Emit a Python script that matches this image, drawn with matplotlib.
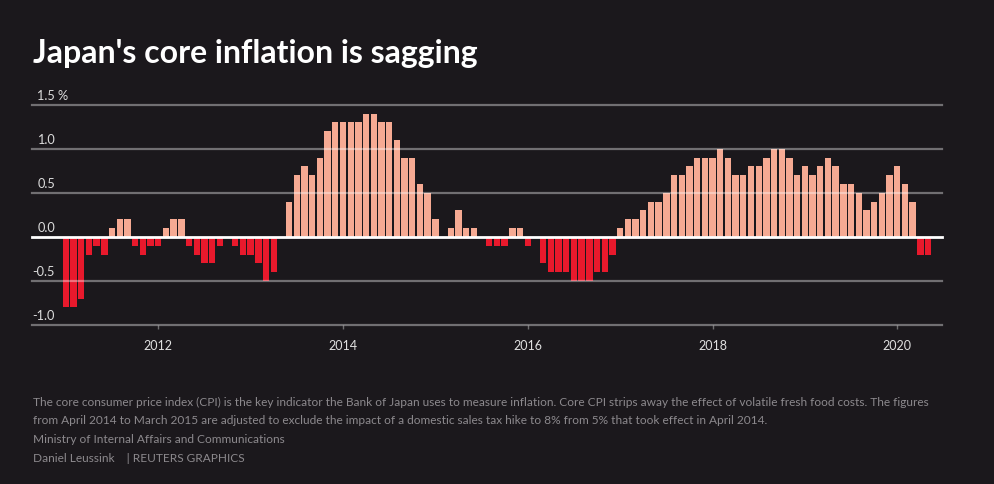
import matplotlib
matplotlib.use("Agg")
import matplotlib.pyplot as plt
from matplotlib import transforms

# core CPI, % change year on year, one value per month from Jan 2011
y2011 = [-0.8, -0.8, -0.7, -0.2, -0.1, -0.2, 0.1, 0.2, 0.2, -0.1, -0.2, -0.1]
y2012 = [-0.1, 0.1, 0.2, 0.2, -0.1, -0.2, -0.3, -0.3, -0.1, 0.0, -0.1, -0.2]
y2013 = [-0.2, -0.3, -0.5, -0.4, 0.0, 0.4, 0.7, 0.8, 0.7, 0.9, 1.2, 1.3]
y2014 = [1.3, 1.3, 1.3, 1.4, 1.4, 1.3, 1.3, 1.1, 0.9, 0.9, 0.6, 0.5]
y2015 = [0.2, 0.0, 0.1, 0.3, 0.1, 0.1, 0.0, -0.1, -0.1, -0.1, 0.1, 0.1]
y2016 = [-0.1, 0.0, -0.3, -0.4, -0.4, -0.4, -0.5, -0.5, -0.5, -0.4, -0.4, -0.2]
y2017 = [0.1, 0.2, 0.2, 0.3, 0.4, 0.4, 0.5, 0.7, 0.7, 0.8, 0.9, 0.9]
y2018 = [0.9, 1.0, 0.9, 0.7, 0.7, 0.8, 0.8, 0.9, 1.0, 1.0, 0.9, 0.7]
y2019 = [0.8, 0.7, 0.8, 0.9, 0.8, 0.6, 0.6, 0.5, 0.3, 0.4, 0.5, 0.7]
y2020 = [0.8, 0.6, 0.4, -0.2, -0.2]

year_ticks = [12, 36, 60, 84, 108]
year_labels = ["2012", "2014", "2016", "2018", "2020"]
y_grid = [-1.0, -0.5, 0.0, 0.5, 1.0, 1.5]
y_labels = ["-1.0", "-0.5", "0.0", "0.5", "1.0", "1.5 %"]

values = y2011 + y2012 + y2013 + y2014 + y2015 + y2016 + y2017 + y2018 + y2019 + y2020
months = list(range(len(values)))

BG = "#1b181c"
POS = "#f6aa93"
NEG = "#e8192c"
plt.rcParams["font.family"] = ["Lato", "DejaVu Sans"]

fig = plt.figure(figsize=(9.94, 4.85), dpi=100, facecolor=BG)
ax = fig.add_axes([32 / 994, 159 / 485, 910.3 / 994, 220.3 / 485])
ax.set_facecolor(BG)

colors = [POS if v > 0 else NEG for v in values]
ax.bar(months, values, width=0.83, color=colors, zorder=2)

# grid lines sit on top of the bars, faintly
for v in y_grid:
    if v == 0:
        ax.axhline(v, color="white", lw=2, zorder=4, clip_on=False)
    else:
        ax.axhline(v, color="white", alpha=0.38, lw=1.6, zorder=3, clip_on=False)

trans = transforms.blended_transform_factory(ax.transAxes, ax.transData)
for v, lab in zip(y_grid, y_labels):
    xpos = 0.0008 if lab.startswith("-") else 0.0058
    ax.annotate(lab, xy=(xpos, v), xycoords=trans, xytext=(0, 3), textcoords="offset points",
                ha="left", va="bottom", fontsize=9.2, color="#dcdcdc")

ax.set_xlim(-4.4, 113.85)
ax.set_ylim(-1.0, 1.5)
ax.set_yticks([])
ax.set_xticks(year_ticks)
ax.set_xticklabels(year_labels)
ax.tick_params(axis="x", length=3, width=1, color="#6e6d6f", labelcolor="#e0e0e0",
               labelsize=9, pad=7)
for s in ax.spines.values():
    s.set_visible(False)

fig.text(33 / 994, 1 - 63.5 / 485, "Japan's core inflation is sagging", fontsize=23,
         fontweight="bold", color="white", va="baseline")

note_color = "#8c898d"
notes = [
    "The core consumer price index (CPI) is the key indicator the Bank of Japan uses to measure inflation. Core CPI strips away the effect of volatile fresh food costs. The figures",
    "from April 2014 to March 2015 are adjusted to exclude the impact of a domestic sales tax hike to 8% from 5% that took effect in April 2014.",
    "Ministry of Internal Affairs and Communications",
    "Daniel Leussink    | REUTERS GRAPHICS",
]
for i, line in enumerate(notes):
    fig.text(33 / 994, 1 - (402 + 19 * i) / 485, line, fontsize=8.6, color=note_color, va="center")

fig.savefig("out.png", dpi=100, facecolor=BG)
